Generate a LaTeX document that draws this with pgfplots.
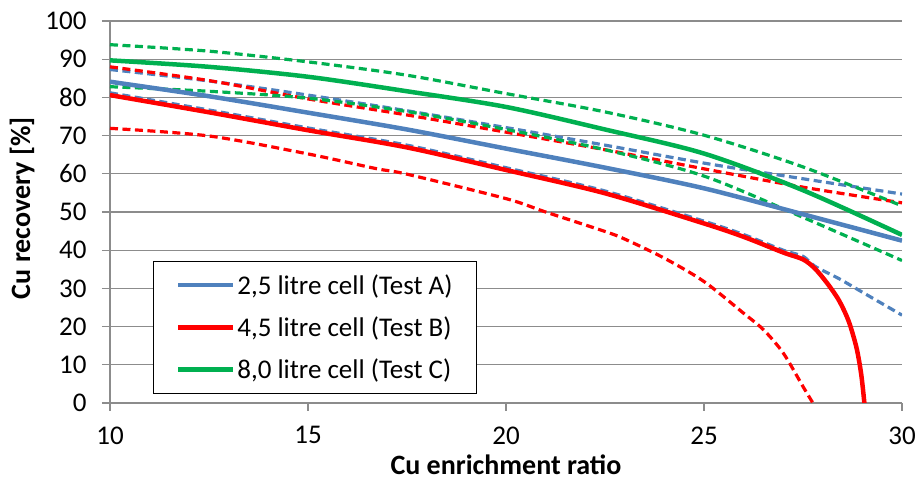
\documentclass[border=0pt]{standalone}
\usepackage{fontspec}
\setmainfont{Carlito}
\usepackage{pgfplots}
\pgfplotsset{compat=1.18}
\definecolor{cblue}{HTML}{4F81BD}
\definecolor{cred}{HTML}{FF0000}
\definecolor{cgreen}{HTML}{00B050}
\definecolor{cgrid}{HTML}{8C8C8C}
\newcommand{\bigf}{\fontsize{27}{32}\selectfont}
\newcommand{\labf}{\fontsize{28}{33}\selectfont}
\begin{document}
\begin{tikzpicture}
\begin{axis}[
  scale only axis, width=792pt, height=382pt,
  xmin=10, xmax=30, ymin=0, ymax=100,
  xtick={10,15,20,25,30}, ytick={0,10,...,100},
  axis x line=bottom, axis y line=left,
  axis line style={cgrid, line width=1.3pt, -},
  ymajorgrids, grid style={cgrid, line width=1.3pt},
  tick align=outside, major tick length=8pt,
  tick style={cgrid, line width=1.3pt},
  /pgf/number format/assume math mode=true,
  ticklabel style={font=\bigf, text=black},
  xticklabel style={yshift=-12pt},
  yticklabel style={xshift=-12pt},
  xlabel={\textbf{Cu enrichment ratio}},
  ylabel={\textbf{Cu recovery [\%]}},
  label style={font=\labf},
  xlabel style={at={(axis description cs:0.5,-0.1615)}, anchor=center},
  ylabel style={at={(axis description cs:-0.111,0.51)}, anchor=center},
  legend style={at={(0.0547,0.024)}, anchor=south west, draw=black,
    line width=1pt, font=\bigf, inner xsep=22pt, inner ysep=11pt,
    row sep=17pt, nodes={inner sep=2pt}},
  legend cell align=left,
  legend image code/.code={\draw[#1, line width=4.5pt] (0pt,0pt) -- (55pt,0pt);},
  every axis plot/.append style={smooth, tension=0.5},
]
% dashed confidence curves
\addplot[cblue, line width=3.2pt, dash pattern=on 8pt off 4.5pt, forget plot] coordinates {
 (10,87.3) (12.5,84.3) (15,80.6) (17.5,76.5) (20,72.1) (22.5,67.5) (25,62.8) (27.5,58.7) (30,54.7)};
\addplot[cblue, line width=3.2pt, dash pattern=on 8pt off 4.5pt, forget plot] coordinates {
 (10,81.2) (12.5,76.7) (15,72.0) (17.5,67.5) (20,61.6) (22.5,55.5) (25,47.6) (26,44.1) (27,40.0) (27.5,38.4) (27.8,35.8) (28.4,32.6) (28.9,29.6) (29.5,26.0) (30,23.0)};
\addplot[cred, line width=3.2pt, dash pattern=on 8pt off 4.5pt, forget plot] coordinates {
 (10,88.0) (12.5,84.4) (15,79.6) (17.5,75.4) (20,70.9) (22.5,66.3) (25,61.3) (27.5,56.5) (30,52.4)};
\addplot[cred, line width=3.2pt, dash pattern=on 8pt off 4.5pt, forget plot] coordinates {
 (10,71.9) (12.5,69.9) (15,65.2) (16.7,61.4) (17.5,59.9) (20,53.5) (21,50.0) (22.5,44.9) (23,42.9) (24,37.9) (25,31.8) (26,23.5) (26.5,19.2) (27,13.1) (27.5,4.3) (27.75,0)};
\addplot[cgreen, line width=3.2pt, dash pattern=on 8pt off 4.5pt, forget plot] coordinates {
 (10,93.8) (12.5,92.1) (15,89.3) (17.5,85.8) (20,81.0) (22.5,76.2) (25,70.1) (27.5,61.8) (30,51.6)};
\addplot[cgreen, line width=3.2pt, dash pattern=on 8pt off 4.5pt, forget plot] coordinates {
 (10,82.8) (12.5,81.6) (15,79.8) (17.5,76.3) (20,71.6) (22.5,66.3) (25,59.4) (27.5,48.6) (30,37.3)};
% fitted curves
\addplot[cblue, line width=4.5pt] coordinates {
 (10,84.1) (12.5,80.3) (15,76.0) (17.5,71.6) (20,66.6) (22.5,61.6) (25,56.2) (27.5,49.4) (30,42.5)};
\addlegendentry{2,5 litre cell (Test A)}
\addplot[cred, line width=4.5pt] coordinates {
 (10,80.6) (12.5,76.1) (15,71.4) (17.5,66.9) (20,61.0) (22.5,54.9) (25,47.0) (26,43.5) (27,39.4) (27.5,37.6) (27.8,35.2) (28.1,31.5) (28.4,27.0) (28.65,21.5) (28.85,14.5) (28.97,7.5) (29.05,0)};
\addlegendentry{4,5 litre cell (Test B)}
\addplot[cgreen, line width=4.5pt] coordinates {
 (10,89.7) (12.5,88.0) (15,85.4) (17.5,81.6) (20,77.5) (22.5,71.6) (25,65.3) (27.5,55.7) (30,44.0)};
\addlegendentry{8,0 litre cell (Test C)}
\coordinate (sw) at (rel axis cs:0,0);
\coordinate (ne) at (rel axis cs:1,1);
\end{axis}
\pgfresetboundingbox
\path[use as bounding box] ([shift={(-110pt,-78pt)}]sw) rectangle ([shift={(16pt,21pt)}]ne);
\end{tikzpicture}
\end{document}
